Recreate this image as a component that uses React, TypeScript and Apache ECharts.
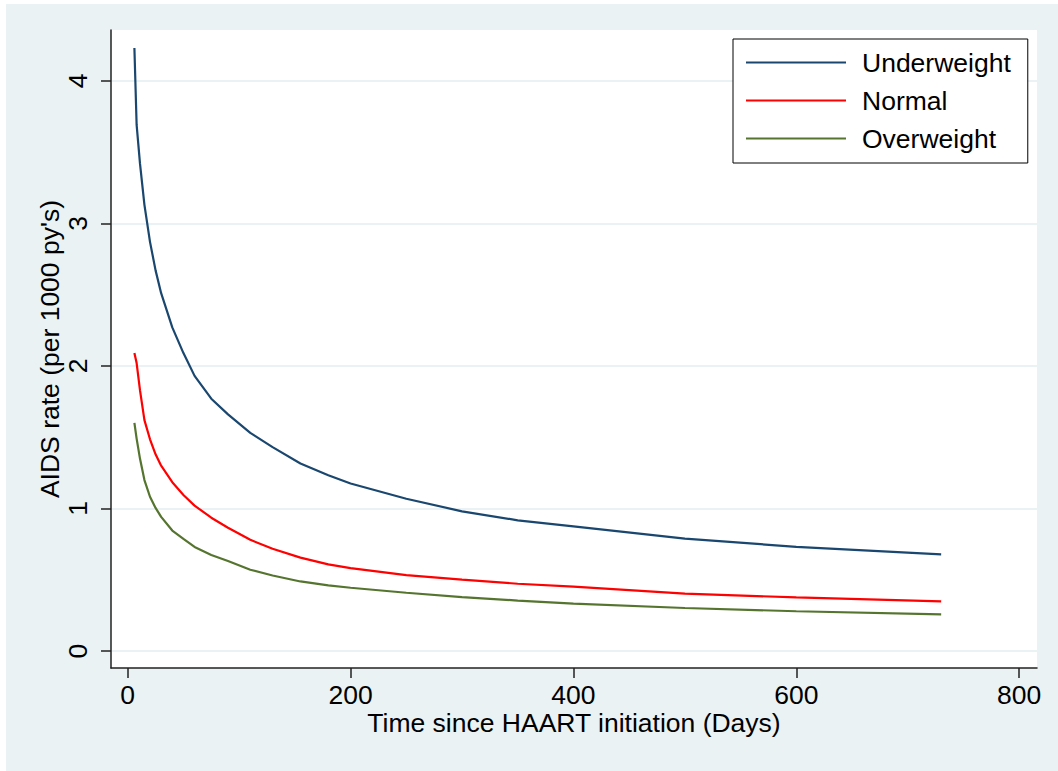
import React, { useEffect, useRef } from "react";
import * as echarts from "echarts";

const days = [6, 8, 11, 15, 20, 25, 30, 40, 50, 60, 75, 90, 110, 130, 155, 180, 200, 250, 300, 350, 400, 500, 600, 730];
const underweight = [4.23, 3.69, 3.42, 3.13, 2.87, 2.67, 2.51, 2.27, 2.09, 1.93, 1.77, 1.66, 1.53, 1.43, 1.315, 1.233, 1.175, 1.068, 0.98, 0.917, 0.874, 0.788, 0.731, 0.678];
const normal = [2.09, 2.02, 1.83, 1.62, 1.485, 1.38, 1.3, 1.184, 1.094, 1.02, 0.935, 0.865, 0.78, 0.717, 0.655, 0.608, 0.581, 0.533, 0.501, 0.472, 0.452, 0.403, 0.376, 0.348];
const overweight = [1.6, 1.49, 1.35, 1.199, 1.082, 1.004, 0.941, 0.845, 0.787, 0.73, 0.674, 0.631, 0.57, 0.53, 0.488, 0.461, 0.444, 0.409, 0.378, 0.354, 0.332, 0.302, 0.279, 0.257];
const seriesNames = ["Underweight", "Normal", "Overweight"];
const seriesColors = ["#1a476f", "#ff0000", "#55752f"];
const xTicks = [0, 200, 400, 600, 800];
const yTicks = [0, 1, 2, 3, 4];

const FONT = "'Liberation Sans', Arial, sans-serif";
const FS = 26.5;

export default function App() {
  const ref = useRef<HTMLDivElement>(null);
  useEffect(() => {
    if (!ref.current) return;
    const chart = echarts.init(ref.current, undefined, { renderer: "svg" });
    const values = [underweight, normal, overweight];
    chart.setOption({
      animation: false,
      backgroundColor: "#eaf2f3",
      textStyle: { fontFamily: FONT },
      grid: { left: 105, top: 26, right: 21, bottom: 103, show: true, backgroundColor: "#ffffff", borderWidth: 0 },
      legend: {
        orient: "vertical",
        left: 727,
        top: 35,
        padding: [10, 17, 11, 13],
        itemWidth: 100,
        itemHeight: 2,
        itemGap: 11,
        icon: "rect",
        backgroundColor: "#ffffff",
        borderColor: "#000000",
        borderWidth: 1,
        textStyle: { fontSize: FS, color: "#000", fontFamily: FONT, padding: [0, 0, 0, 11] },
        data: seriesNames,
      },
      xAxis: {
        type: "value",
        min: -15,
        max: 816,
        name: "Time since HAART initiation (Days)",
        nameLocation: "middle",
        nameGap: 42,
        nameMoveOverlap: false,
        nameTextStyle: { fontSize: FS, lineHeight: 26, color: "#000", fontFamily: FONT },
        axisLine: { show: true, onZero: false, lineStyle: { color: "#222", width: 1.5 } },
        axisTick: { show: true, length: 10, customValues: xTicks, lineStyle: { color: "#222", width: 1.5 } },
        axisLabel: { customValues: xTicks, fontSize: FS, lineHeight: 26, color: "#000", margin: 14, fontFamily: FONT },
        splitLine: { show: false },
      },
      yAxis: {
        type: "value",
        min: -0.119,
        max: 4.356,
        name: "AIDS rate (per 1000 py's)",
        nameLocation: "middle",
        nameRotate: 90,
        nameGap: 48,
        nameMoveOverlap: false,
        nameTextStyle: { fontSize: FS, color: "#000", fontFamily: FONT },
        axisLine: { show: true, onZero: false, lineStyle: { color: "#222", width: 1.5 } },
        axisTick: { show: true, length: 10, customValues: yTicks, lineStyle: { color: "#222", width: 1.5 } },
        axisLabel: { customValues: yTicks, rotate: 90, fontSize: FS, color: "#000", margin: 20, fontFamily: FONT },
        splitLine: { show: true, lineStyle: { color: "#eaf2f3", width: 2 } },
      },
      series: seriesNames.map((name, i) => ({
        name,
        type: "line",
        symbol: "none",
        smooth: false,
        data: days.map((d, j) => [d, values[i][j]]),
        lineStyle: { color: seriesColors[i], width: 2.2 },
        itemStyle: { color: seriesColors[i] },
      })),
    });
    return () => chart.dispose();
  }, []);
  return <div ref={ref} style={{ position: "absolute", left: 6, top: 4, width: 1052, height: 767 }} />;
}
